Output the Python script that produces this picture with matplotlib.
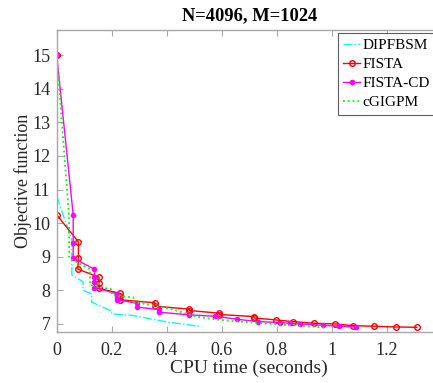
import matplotlib
matplotlib.use("Agg")
import matplotlib.pyplot as plt

plt.rcParams['font.family'] = ['Liberation Serif', 'DejaVu Serif']
plt.rcParams['mathtext.fontset'] = 'stix'

# DIPFBSM
t_dip = [0.0, 0.055, 0.055, 0.096, 0.096, 0.127, 0.127, 0.2, 0.2, 0.278, 0.4, 0.527]
v_dip = [10.8, 9.5, 8.46, 8.25, 8.0, 7.9, 7.65, 7.38, 7.3, 7.25, 7.06, 6.92]

# FISTA
t_fista = [0, 0, 0.079, 0.079, 0.077, 0.154, 0.154, 0.154, 0.23, 0.23, 0.23,
           0.357, 0.357, 0.482, 0.482, 0.591, 0.591, 0.717, 0.717, 0.796,
           0.858, 0.937, 1.012, 1.076, 1.154, 1.233, 1.31]
v_fista = [15, 10.25, 9.44, 8.96, 8.63, 8.39, 8.22, 8.06, 7.91, 7.82, 7.72,
           7.63, 7.53, 7.44, 7.40, 7.32, 7.28, 7.22, 7.18, 7.12,
           7.07, 7.02, 7.0, 6.95, 6.93, 6.91, 6.9]

# FISTA-CD
t_cd = [0, 0.06, 0.06, 0.06, 0.137, 0.137, 0.137, 0.137, 0.218, 0.218, 0.218,
        0.292, 0.292, 0.373, 0.373, 0.482, 0.576, 0.655, 0.733, 0.812, 0.85,
        0.885, 0.97, 1.028, 1.09]
v_cd = [15, 10.25, 9.42, 8.96, 8.63, 8.39, 8.25, 8.08, 7.9, 7.8, 7.72,
        7.62, 7.5, 7.43, 7.35, 7.27, 7.23, 7.14, 7.07, 7.04, 7.02,
        7.0, 6.96, 6.93, 6.91]

# cGIGPM
t_cg = [0, 0.045, 0.045, 0.121, 0.121, 0.2, 0.2, 0.279, 0.279, 0.4, 0.418,
        0.497, 0.521, 0.594, 0.715, 0.8, 0.88, 0.982]
v_cg = [15, 10.2, 8.96, 8.63, 8.16, 8.03, 7.86, 7.79, 7.66, 7.47, 7.44,
        7.24, 7.2, 7.12, 7.04, 6.99, 6.95, 6.89]

x_ticks = [0, 0.2, 0.4, 0.6, 0.8, 1, 1.2]
x_ticklabels = ['0', '0.2', '0.4', '0.6', '0.8', '1', '1.2']
y_ticks = [7, 8, 9, 10, 11, 12, 13, 14, 15]

fig = plt.figure(figsize=(4.33, 3.83), dpi=100)
ax = fig.add_axes([56.7 / 433, 51 / 383, (441.7 - 56.7) / 433, 302 / 383])

ax.plot(t_dip, v_dip, color='#00ffff', linestyle='-.', linewidth=1.0, label='DIPFBSM')
ax.plot(t_fista, v_fista, color='#ff0000', linestyle='-', linewidth=1.0,
        marker='o', markersize=4, markerfacecolor='none', markeredgewidth=1.0,
        label='FISTA')
ax.plot(t_cd, v_cd, color='#ff00ff', linestyle='-', linewidth=1.0,
        marker='.', markersize=6, label='FISTA-CD')
ax.plot(t_cg, v_cg, color='#00ff00', linestyle=':', linewidth=1.3, label='cGIGPM')

ax.set_xlim(0, 1.4)
ax.set_ylim(6.76, 15.75)
ax.set_xticks(x_ticks)
ax.set_xticklabels(x_ticklabels)
ax.set_yticks(y_ticks)

spine_col = '#a8a8a8'
for s in ax.spines.values():
    s.set_color(spine_col)
    s.set_linewidth(1.0)
ax.tick_params(direction='in', top=True, right=True, color=spine_col,
               labelsize=13, labelcolor='#262626', length=4)
ax.tick_params(axis='x', pad=7.5)
ax.tick_params(axis='y', pad=4.5)

ax.set_title('N=4096, M=1024', fontsize=13.3, fontweight='bold', pad=7)
ax.set_xlabel('CPU time (seconds)', fontsize=14, color='#262626', labelpad=0)
ax.set_ylabel('Objective function', fontsize=13, color='#262626')
ax.yaxis.set_label_coords(-0.064, 0.5)

leg = ax.legend(loc='upper left', bbox_to_anchor=(281.3 / 385, 0.99), fontsize=11,
                frameon=True, fancybox=False, edgecolor='#333333',
                handlelength=1.1, handletextpad=0.15, borderpad=0.35,
                labelspacing=0.35, borderaxespad=0.0)
leg.get_frame().set_linewidth(0.8)

fig.savefig('out.png', dpi=100)
